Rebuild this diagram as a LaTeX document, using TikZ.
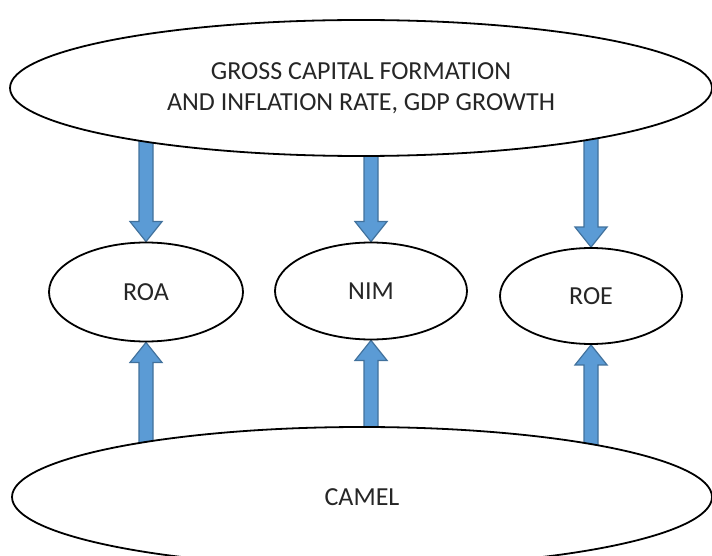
\documentclass[tikz,border=0pt]{standalone}
\usepackage{fontspec}
\setmainfont{Carlito}
\usetikzlibrary{shapes.geometric,calc,backgrounds}
\definecolor{arrowfill}{HTML}{5B9BD5}
\definecolor{arrowedge}{HTML}{41719C}
\tikzset{
    oval/.style={ellipse,draw,fill=white,line width=1.8pt,inner sep=0pt,text=black!85,font=\fontsize{26}{31}\selectfont,align=center},
    blockarrow/.style={draw=arrowedge,fill=arrowfill,line width=1.2pt,line join=miter,
        to path={
            ($(\tikztostart)!7pt!90:(\tikztotarget)$)
            -- ($(\tikztotarget)!20pt!(\tikztostart)!7pt!-90:(\tikztostart)$)
            -- ($(\tikztotarget)!20pt!(\tikztostart)!16pt!-90:(\tikztostart)$)
            -- (\tikztotarget)
            -- ($(\tikztotarget)!20pt!(\tikztostart)!16pt!90:(\tikztostart)$)
            -- ($(\tikztotarget)!20pt!(\tikztostart)!7pt!90:(\tikztostart)$)
            -- ($(\tikztostart)!7pt!-90:(\tikztotarget)$)
            -- cycle}}
}
\begin{document}
\begin{tikzpicture}[x=1pt,y=-1pt]
    \useasboundingbox (0,0) rectangle (712,556);
    \node[oval,minimum width=702pt,minimum height=136pt](macro) at (361,88) {GROSS CAPITAL FORMATION\\AND INFLATION RATE, GDP GROWTH};
    \node[oval,minimum width=194pt,minimum height=99pt](roa) at (146,292) {ROA};
    \node[oval,minimum width=192pt,minimum height=97pt](nim) at (371,291) {NIM};
    \node[oval,minimum width=182pt,minimum height=96pt](roe) at (591,296) {ROE};
    \node[oval,minimum width=700pt,minimum height=140pt](camel) at (362,497) {CAMEL};
    \begin{pgfonlayer}{background}
        \draw[blockarrow] (roa |- macro.center) to (roa.north);
        \draw[blockarrow] (nim |- macro.center) to (nim.north);
        \draw[blockarrow] (roe |- macro.center) to (roe.north);
        \draw[blockarrow] (roa |- camel.center) to (roa.south);
        \draw[blockarrow] (nim |- camel.center) to (nim.south);
        \draw[blockarrow] (roe |- camel.center) to (roe.south);
    \end{pgfonlayer}
\end{tikzpicture}
\end{document}
